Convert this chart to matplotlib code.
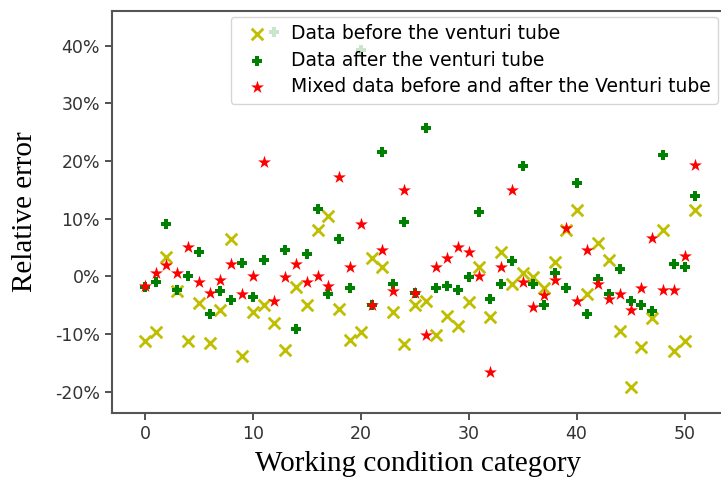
import matplotlib
matplotlib.use("Agg")
import matplotlib.pyplot as plt
from matplotlib.ticker import PercentFormatter

plt.rcParams['axes.unicode_minus'] = False

# working condition index
category = list(range(52))

# relative error (%) before the venturi tube
before = [-11.2, -9.7, 3.4, -2.5, -11.2, -4.6, -11.6, -5.9, 6.4, -13.9,
          -6.2, -4.9, -8.1, -12.8, -1.9, -5.0, 8.0, 10.5, -5.6, -11.0,
          -9.7, 3.2, 1.6, -6.2, -11.7, -4.9, -4.2, -10.2, -6.8, -8.7,
          -4.5, 1.7, -7.1, 4.2, -1.4, 0.6, -0.1, -2.0, 2.5, 8.0,
          11.5, -3.0, 5.8, 2.9, -9.4, -19.2, -12.3, -7.2, 8.0, -13.0,
          -11.2, 11.5]

# relative error (%) after the venturi tube
after = [-1.9, -1.0, 9.0, -2.4, 0.1, 4.2, -6.6, -2.5, -4.1, 2.3,
         -3.6, 2.8, 42.4, 4.6, -9.2, 3.9, 11.6, -3.1, 6.5, -2.0,
         39.2, -5.0, 21.6, -1.4, 9.4, -2.9, 25.8, -2.1, -1.7, -2.4,
         -0.1, 11.2, -4.0, -1.4, 2.7, 19.1, -1.4, -4.9, 0.5, -2.1,
         16.2, -6.6, -0.4, -3.0, 1.2, -4.2, -4.9, -6.0, 21.0, 2.1,
         1.7, 13.9]

# relative error (%) mixed before and after
mixed = [-1.7, 0.6, 1.9, 0.6, 5.1, -1.0, -2.9, -0.6, 2.2, -3.1,
         0.0, 19.8, -4.2, -0.2, 2.2, -1.0, 0.0, -1.6, 17.2, 1.6,
         9.0, -5.0, 4.5, -2.6, 15.0, -2.9, -10.2, 1.6, 3.2, 5.1,
         4.2, 0.0, -16.6, 1.6, 15.0, -1.0, -5.3, -3.3, -0.6, 8.3,
         -4.2, 4.6, -1.3, -3.9, -3.1, -5.8, -2.0, 6.7, -2.3, -2.3,
         3.5, 19.3]

fig = plt.figure(figsize=(7.21, 4.83), dpi=100)
ax = fig.add_axes([0.1553, 0.1449, 0.848, 0.8323])

ax.scatter(category, [v / 100 for v in before], marker='x', color='y',
           s=70, linewidths=2, label='Data before the venturi tube')
ax.scatter(category, [v / 100 for v in after], marker='P', color='g',
           s=50, linewidths=0, label='Data after the venturi tube')
ax.scatter(category, [v / 100 for v in mixed], marker='*', color='r',
           s=95, linewidths=0, label='Mixed data before and after the Venturi tube')

ax.set_xlim(-3.05, 53.6)
ax.set_ylim(-0.237, 0.46)
ax.set_xticks([0, 10, 20, 30, 40, 50])
ax.set_yticks([-0.2, -0.1, 0, 0.1, 0.2, 0.3, 0.4])
ax.yaxis.set_major_formatter(PercentFormatter(1.0, decimals=0))
ax.tick_params(labelsize=12.5, colors='#333333', length=5, width=1.2)

for sp in ax.spines.values():
    sp.set_color('#555555')
    sp.set_linewidth(1.5)

ax.set_xlabel('Working condition category', family='Liberation Serif',
              fontsize=21, labelpad=6)
ax.set_ylabel('Relative error', family='Liberation Serif', fontsize=21,
              labelpad=12)

ax.legend(loc='upper right', fontsize=13.5, framealpha=0.8,
          handletextpad=0.8, borderpad=0.4, labelspacing=0.4,
          borderaxespad=0.3)

fig.savefig('out.png', dpi=100)
